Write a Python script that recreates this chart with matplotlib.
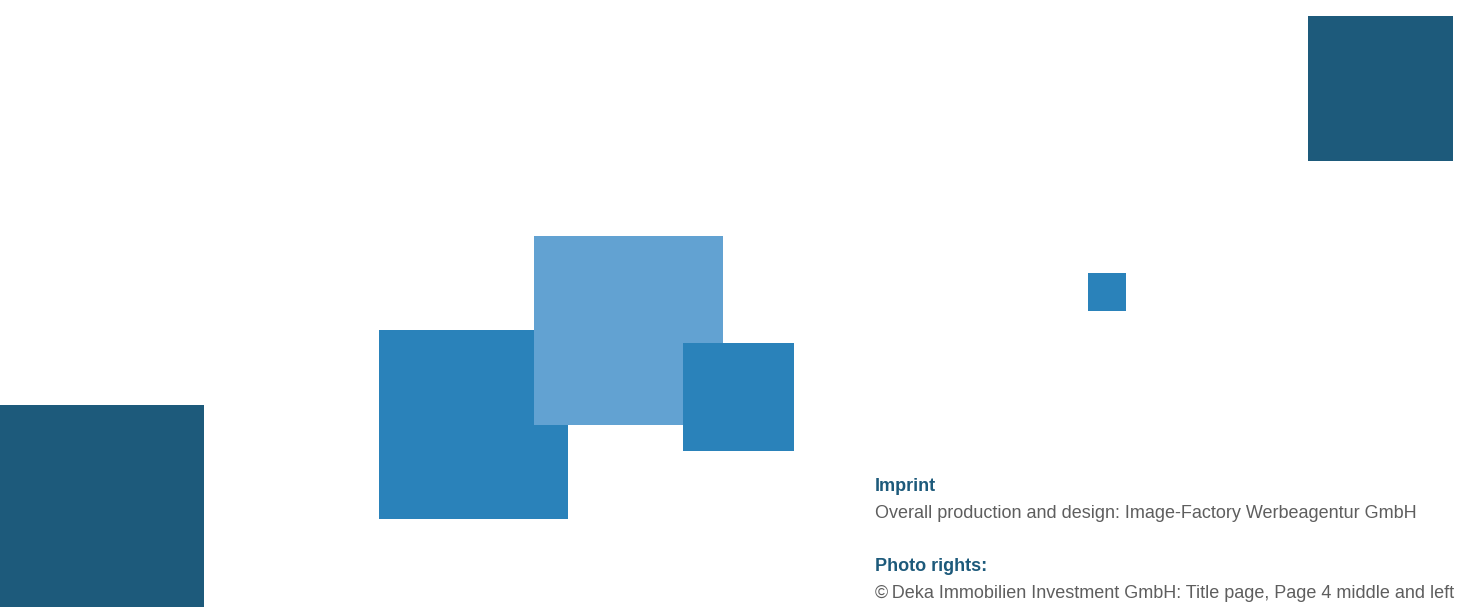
import matplotlib
matplotlib.use("Agg")
import matplotlib.pyplot as plt
from matplotlib.patches import Rectangle

W, H = 1461, 607

# Squares: left x, top y, width, height (pixel space), colour, order
sq_x = [0, 1308, 379, 534, 683, 1088]
sq_y = [405, 16, 330, 236, 343, 273]
sq_w = [204, 145, 189, 189, 111, 38]
sq_h = [202, 145, 189, 189, 108, 38]
sq_c = ["#1D5A7B", "#1D5A7B", "#2A82BA", "#62A2D2", "#2A82BA", "#2A82BA"]

headings = ["Imprint", "Photo rights:"]
heading_y = [491, 571]
bodies = ["Overall production and design: Image-Factory Werbeagentur GmbH",
          "\u00a9\u2009Deka Immobilien Investment GmbH: Title page, Page 4 middle and left"]
body_y = [518, 598]
text_x = 875

fig = plt.figure(figsize=(W / 100, H / 100), dpi=100)
ax = fig.add_axes([0, 0, 1, 1])
ax.set_xlim(0, W)
ax.set_ylim(H, 0)
ax.axis("off")

for i, (x, y, w, h, c) in enumerate(zip(sq_x, sq_y, sq_w, sq_h, sq_c)):
    ax.add_patch(Rectangle((x, y), w, h, facecolor=c, edgecolor="none", zorder=i + 1))

for t, y in zip(headings, heading_y):
    ax.text(text_x, y, t, fontsize=13, fontweight="bold", color="#1D5A7B",
            family=["Liberation Sans", "DejaVu Sans"], va="baseline", ha="left")
for t, y in zip(bodies, body_y):
    ax.text(text_x, y, t, fontsize=13, color="#5E5E5E",
            family=["Liberation Sans", "DejaVu Sans"], va="baseline", ha="left")

fig.savefig("out.png", dpi=100)
